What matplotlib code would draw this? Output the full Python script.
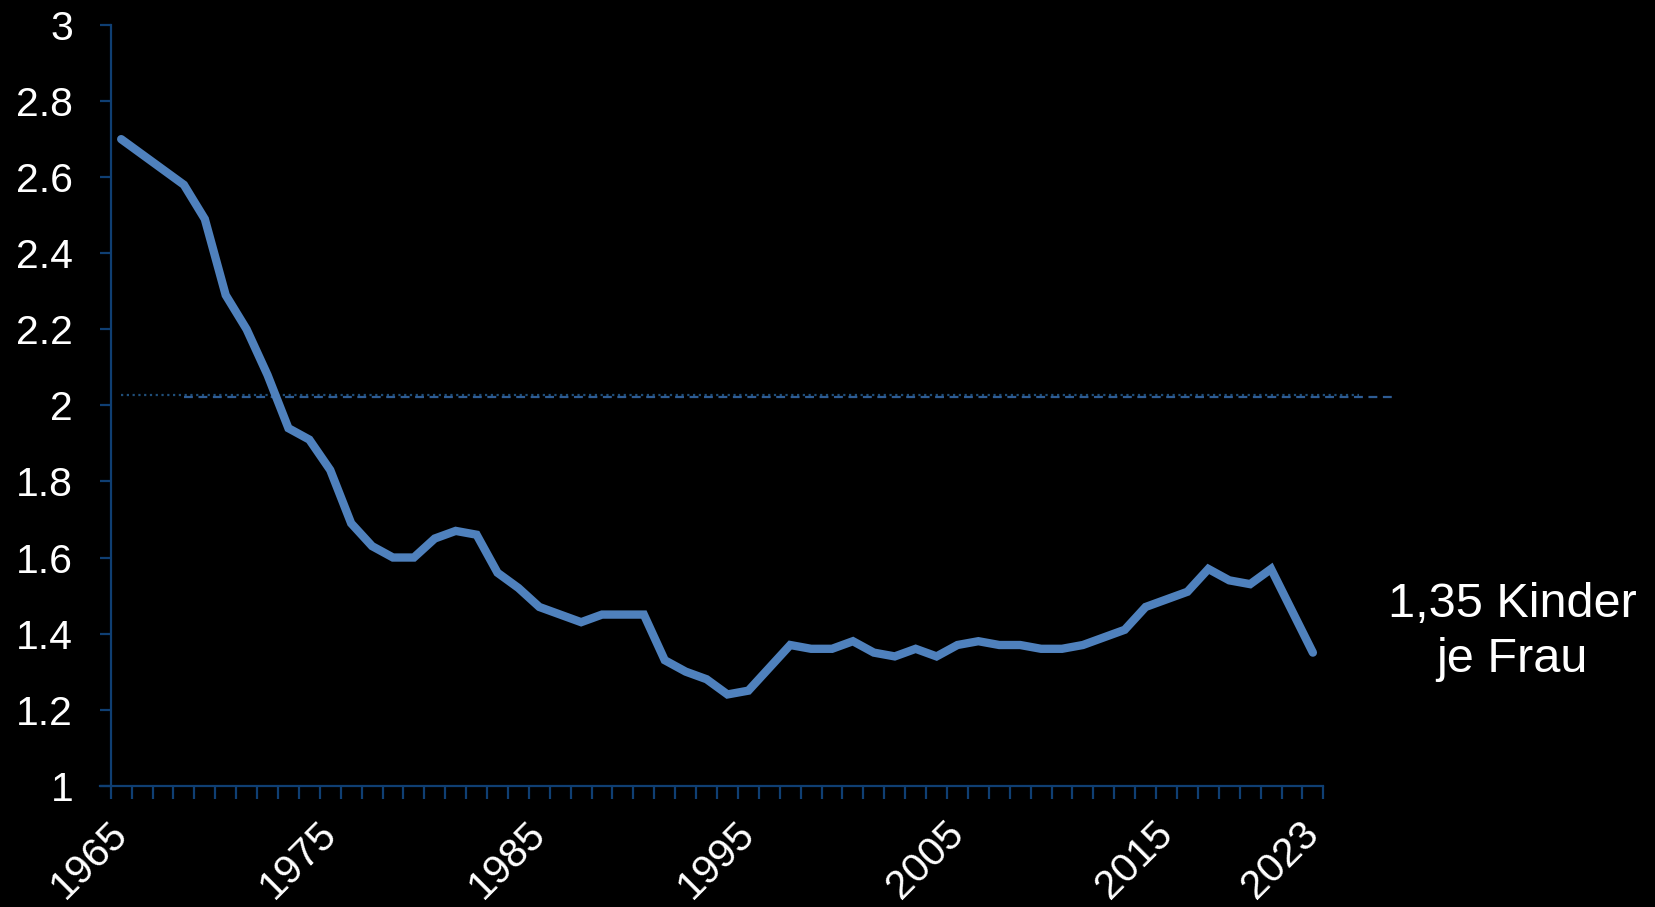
import numpy as np
import matplotlib.pyplot as plt

# Geburtenziffer (Kinder je Frau)
years = list(range(1965, 2022)) + [2023]
fertility = [2.70, 2.66, 2.62, 2.58, 2.49, 2.29, 2.20, 2.08, 1.94, 1.91,
             1.83, 1.69, 1.63, 1.60, 1.60, 1.65, 1.67, 1.66, 1.56, 1.52,
             1.47, 1.45, 1.43, 1.45, 1.45, 1.45, 1.33, 1.30, 1.28, 1.24,
             1.25, 1.31, 1.37, 1.36, 1.36, 1.38, 1.35, 1.34, 1.36, 1.34,
             1.37, 1.38, 1.37, 1.37, 1.36, 1.36, 1.37, 1.39, 1.41, 1.47,
             1.49, 1.51, 1.57, 1.54, 1.53, 1.57, 1.46, 1.35]
label_years = [1965, 1975, 1985, 1995, 2005, 2015, 2023]
y_ticks = [1, 1.2, 1.4, 1.6, 1.8, 2, 2.2, 2.4, 2.6, 2.8, 3]

# Referenzlinien (Bestandserhaltung)
ref_dotted = 2.026
ref_dashed = 2.021
annotation = "1,35 Kinder\nje Frau"

blue = '#4F81BD'
axis_col = '#0F3F73'

plt.rcParams['font.family'] = ['Liberation Sans', 'DejaVu Sans']

fig = plt.figure(figsize=(16.55, 9.07), dpi=100, facecolor='black')
ax = fig.add_axes([0.0669, 0.1337, 0.7327, 0.8387])
ax.set_facecolor('black')

x = np.arange(len(years))
n = len(years)

# Referenzlinien
ax.plot([0, n + 1.2], [ref_dotted, ref_dotted], color='#1F4E79', lw=1.6,
        linestyle=(0, (1, 1.6)), clip_on=False, zorder=2)
ax.plot([3, n + 3], [ref_dashed, ref_dashed], color='#2E5C94', lw=1.6,
        linestyle=(0, (4, 2.5)), clip_on=False, zorder=2)

ax.plot(x, fertility, color=blue, lw=6, solid_capstyle='round',
        solid_joinstyle='miter', zorder=3)

ax.set_xlim(-0.5, n - 0.5)
ax.set_ylim(1, 3)

ax.set_yticks(y_ticks)
ax.set_yticklabels([f'{v:g}' for v in y_ticks])
ax.tick_params(axis='y', colors=axis_col, labelcolor='white', labelsize=29.5,
               length=8, width=1.6, direction='out', pad=19)

idx = [years.index(yr) for yr in label_years]
ax.set_xticks(idx)
ax.set_xticklabels([str(yr) for yr in label_years], rotation=45,
                   ha='right', va='center', rotation_mode='anchor')
ax.set_xticks(np.arange(n + 1) - 0.5, minor=True)
ax.tick_params(axis='x', which='major', length=0, labelcolor='white',
               labelsize=29.5, pad=30)
ax.tick_params(axis='x', which='minor', length=9.5, width=1.6,
               colors=axis_col, direction='out')

for side in ['top', 'right']:
    ax.spines[side].set_visible(False)
for side in ['left', 'bottom']:
    ax.spines[side].set_color(axis_col)
    ax.spines[side].set_linewidth(1.6)
ax.spines['bottom'].set_bounds(-0.5 - 0.5, n - 0.5)

fig.text(1512 / 1655, 1 - 632 / 907, annotation, color='white', fontsize=35,
         ha='center', va='center', linespacing=1.3)

fig.savefig('out.png', dpi=100, facecolor='black')
